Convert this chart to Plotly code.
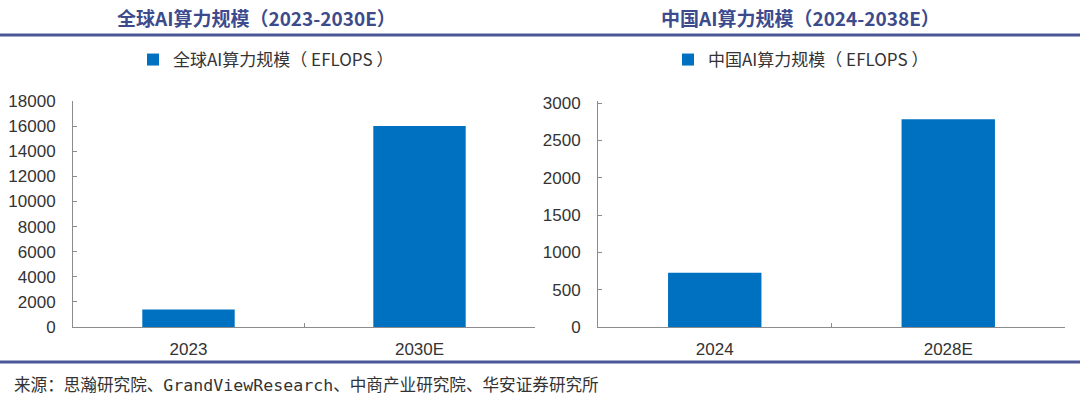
import plotly.graph_objects as go

# Data
global_years = ["2023", "2030E"]
global_values = [1397, 16000]
china_years = ["2024", "2028E"]
china_values = [725, 2782]

title_left = "全球AI算力规模（2023-2030E）"
title_right = "中国AI算力规模（2024-2038E）"
legend_left = "全球AI算力规模（ EFLOPS ）"
legend_right = "中国AI算力规模（ EFLOPS ）"
source_text = "来源：思瀚研究院、GrandViewResearch、中商产业研究院、华安证券研究所"

left_ticks = [0, 2000, 4000, 6000, 8000, 10000, 12000, 14000, 16000, 18000]
right_ticks = [0, 500, 1000, 1500, 2000, 2500, 3000]

BAR = "#0070c0"
TITLE_C = "#3d4b8c"
LINE_C = "#4a5796"
AXIS_C = "#8c8c8c"
TXT = "#333333"
W, H = 1080, 396

fig = go.Figure()
fig.add_trace(go.Bar(x=global_years, y=global_values, name=legend_left,
                     marker=dict(color=BAR, line=dict(width=0)), width=0.4,
                     xaxis="x", yaxis="y", legend="legend"))
fig.add_trace(go.Bar(x=china_years, y=china_values, name=legend_right,
                     marker=dict(color=BAR, line=dict(width=0)), width=0.4,
                     xaxis="x2", yaxis="y2", legend="legend2"))

def px_x(p):
    return p / W

def px_y(p):
    return (H - p) / H

y0 = px_y(327)
y1 = px_y(101)

axis_common = dict(showline=True, linecolor=AXIS_C, linewidth=1, showgrid=False,
                   zeroline=False, ticks="inside", ticklen=4, tickcolor=AXIS_C,
                   automargin=False,
                   tickfont=dict(family="Liberation Sans, Arial, sans-serif", size=17, color=TXT))

fig.update_layout(
    width=W, height=H,
    margin=dict(l=0, r=0, t=0, b=0, autoexpand=False),
    paper_bgcolor="white", plot_bgcolor="white",
    showlegend=True,
    xaxis=dict(domain=[px_x(73), px_x(535)], anchor="y", type="category",
               tickson="boundaries", ticklabelstandoff=7, **axis_common),
    yaxis=dict(domain=[y0, y1], anchor="x", range=[0, 18000], tickvals=left_ticks,
               tickformat="d", ticklabelstandoff=13, **axis_common),
    xaxis2=dict(domain=[px_x(598), px_x(1065)], anchor="y2", type="category",
                tickson="boundaries", ticklabelstandoff=7, **axis_common),
    yaxis2=dict(domain=[y0, y1], anchor="x2", range=[0, 3000 * 226 / 224],
                tickvals=right_ticks, tickformat="d", ticklabelstandoff=13, **axis_common),
    legend=dict(x=px_x(266), y=px_y(60), xanchor="center", yanchor="middle",
                orientation="h", bgcolor="rgba(0,0,0,0)",
                font=dict(family="Noto Sans CJK SC, sans-serif", size=17, color=TXT),
                itemwidth=30),
    legend2=dict(x=px_x(801), y=px_y(60), xanchor="center", yanchor="middle",
                 orientation="h", bgcolor="rgba(0,0,0,0)",
                 font=dict(family="Noto Sans CJK SC, sans-serif", size=17, color=TXT),
                 itemwidth=30),
    bargap=0.6,
)

fig.add_annotation(text="<b>" + title_left + "</b>", x=px_x(256), y=px_y(17),
                   xref="paper", yref="paper", showarrow=False, xanchor="center", yanchor="middle",
                   font=dict(family="Noto Sans CJK SC, sans-serif", size=19, color=TITLE_C))
fig.add_annotation(text="<b>" + title_right + "</b>", x=px_x(800), y=px_y(17),
                   xref="paper", yref="paper", showarrow=False, xanchor="center", yanchor="middle",
                   font=dict(family="Noto Sans CJK SC, sans-serif", size=19, color=TITLE_C))
fig.add_annotation(text=source_text, x=px_x(12), y=px_y(385),
                   xref="paper", yref="paper", showarrow=False, xanchor="left", yanchor="middle",
                   font=dict(family="DejaVu Sans Mono, Noto Sans CJK SC, monospace", size=16.6, color=TXT))

for yy in (35, 362):
    fig.add_shape(type="line", xref="paper", yref="paper", x0=0, x1=1,
                  y0=px_y(yy), y1=px_y(yy), line=dict(color=LINE_C, width=3))

fig.write_html("out.html", config={"displayModeBar": False},
               post_script="document.body.style.margin='0';document.body.style.overflow='hidden';")
